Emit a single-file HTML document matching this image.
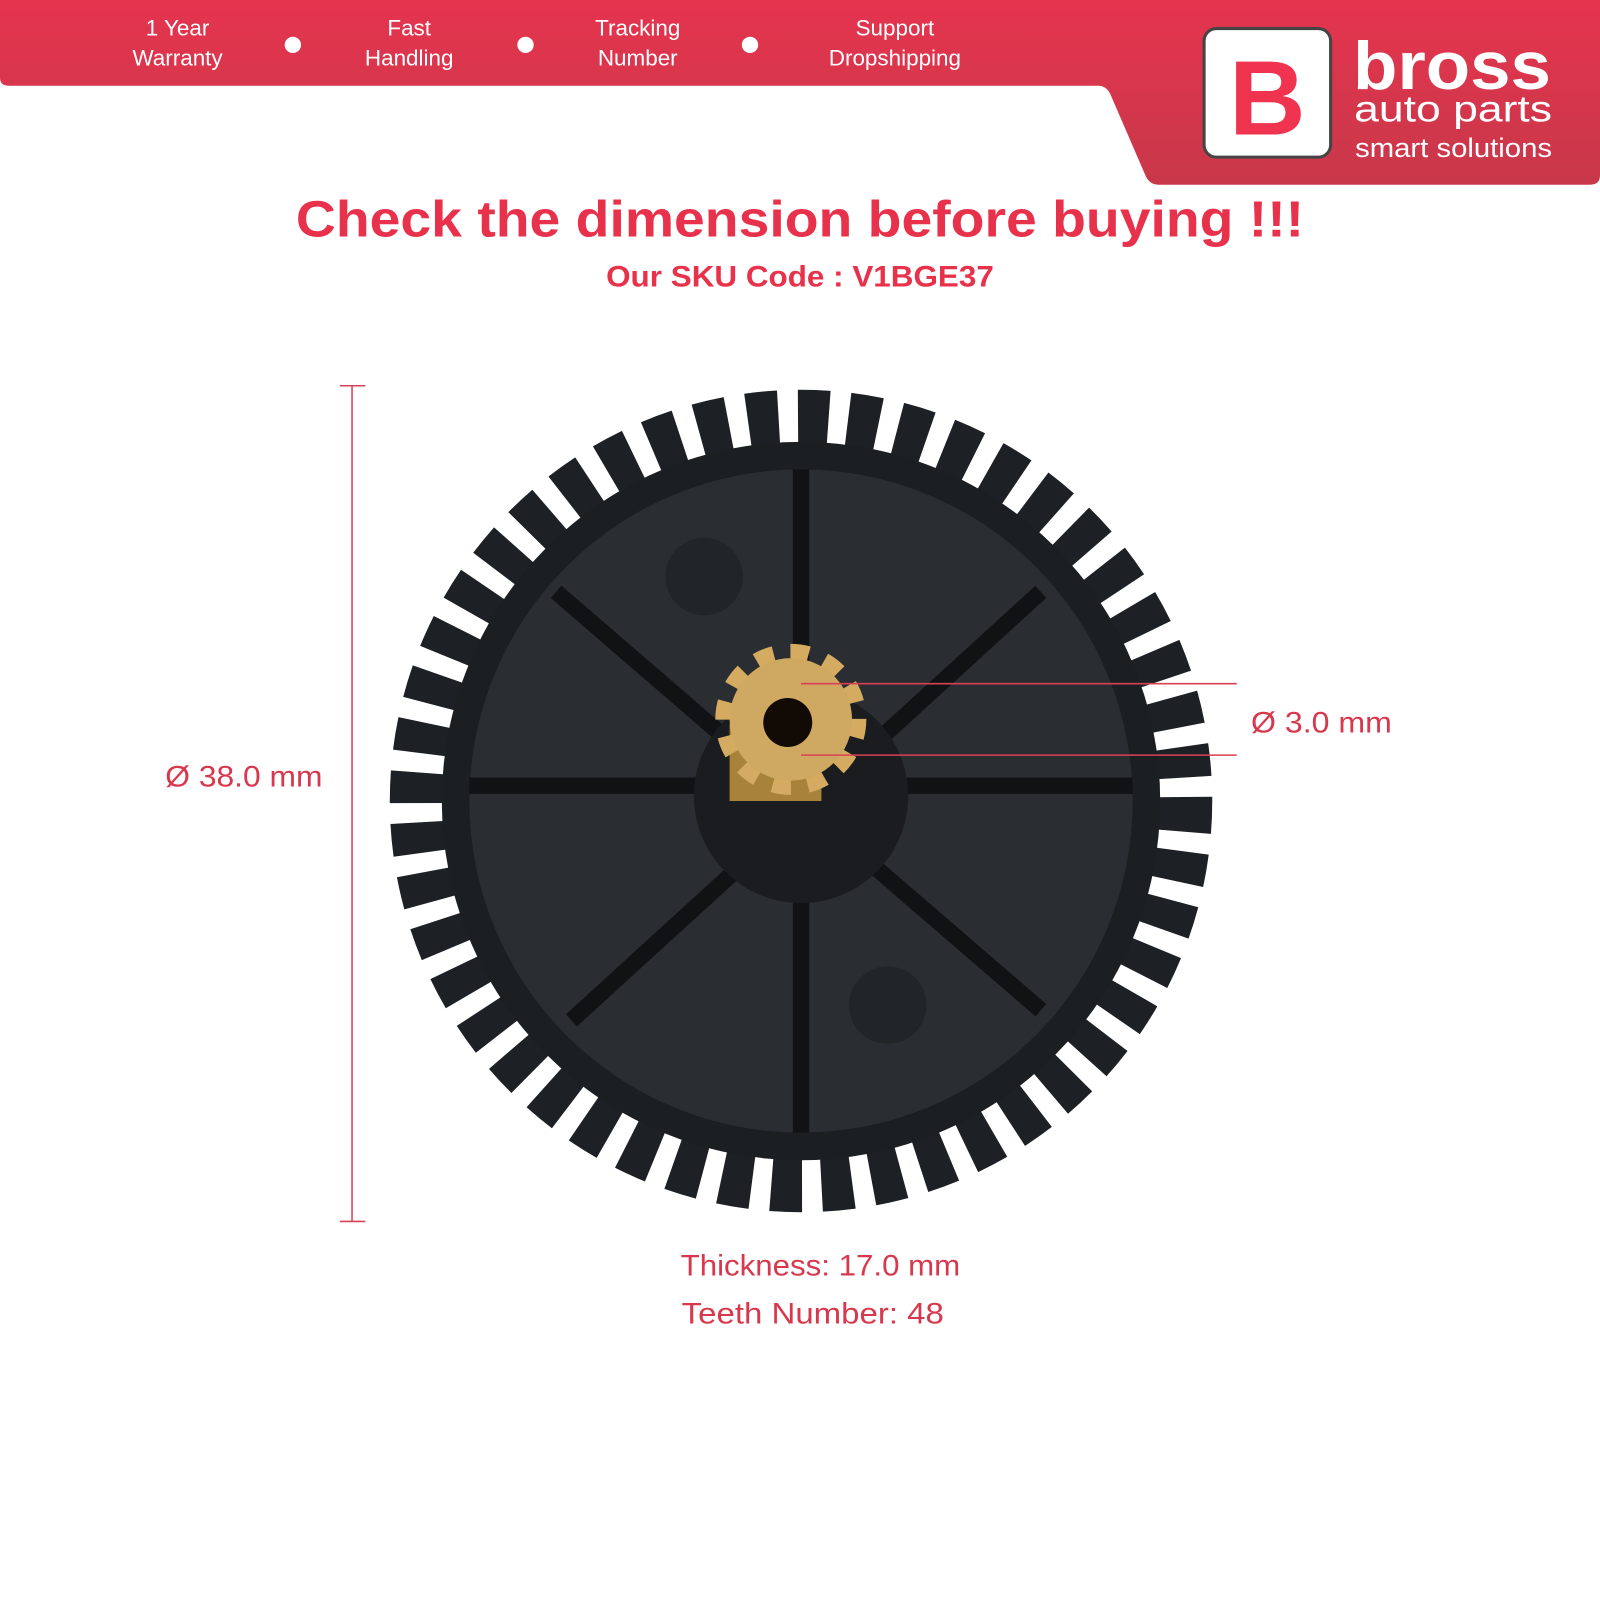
<!DOCTYPE html>
<html><head><meta charset="utf-8"><style>html,body{margin:0;padding:0;background:#fff}svg{display:block}</style></head><body>
<svg width="1600" height="1600" viewBox="0 0 1568 1568" xmlns="http://www.w3.org/2000/svg" font-family="Liberation Sans, sans-serif">
<defs><linearGradient id="rg" x1="0" y1="0" x2="0" y2="1"><stop offset="0" stop-color="#e5344e"/><stop offset="1" stop-color="#c8384a"/></linearGradient></defs>
<path d="M0 0 H1568 V172 Q1568 181 1558 181 H1135 Q1127 181 1123 173 L1088 92 Q1084 84 1076 84 H8 Q0 84 0 76 Z" fill="url(#rg)"/>
<g fill="#fff" font-size="22" text-anchor="middle">
<text x="174" y="35">1 Year</text><text x="174" y="64">Warranty</text>
<text x="401" y="35">Fast</text><text x="401" y="64">Handling</text>
<text x="625" y="35">Tracking</text><text x="625" y="64">Number</text>
<text x="877" y="35">Support</text><text x="877" y="64">Dropshipping</text>
<circle cx="287" cy="44" r="8"/><circle cx="515" cy="44" r="8"/><circle cx="735" cy="44" r="8"/>
</g>
<rect x="1180" y="28" width="124" height="126" rx="12" fill="#fff" stroke="#444" stroke-width="3"/>
<text x="1242" y="132" font-size="104" font-weight="bold" fill="#f0344f" text-anchor="middle">B</text>
<text x="1326" y="87" font-size="66" font-weight="bold" fill="#fff" textLength="194" lengthAdjust="spacingAndGlyphs">bross</text>
<text x="1327" y="119" font-size="36" fill="#fff" textLength="194" lengthAdjust="spacingAndGlyphs">auto parts</text>
<text x="1328" y="154" font-size="26" fill="#fff" textLength="193" lengthAdjust="spacingAndGlyphs">smart solutions</text>
<text x="290" y="232" font-size="50" font-weight="bold" fill="#e8314a" textLength="988" lengthAdjust="spacingAndGlyphs">Check the dimension before buying !!!</text>
<text x="594" y="281" font-size="29" font-weight="bold" fill="#e8314a" textLength="380" lengthAdjust="spacingAndGlyphs">Our SKU Code : V1BGE37</text>
<!-- gear -->
<circle cx="785" cy="785" r="375" fill="none" stroke="#1d2024" stroke-width="56" stroke-dasharray="30 19"/>
<circle cx="785" cy="785" r="352" fill="#1c1f22"/>
<circle cx="785" cy="785" r="325" fill="#2a2d31"/>
<g stroke="#101214" stroke-width="16">
<line x1="785" y1="460" x2="785" y2="1110"/><line x1="460" y1="770" x2="1110" y2="770"/>
<line x1="545" y1="580" x2="1020" y2="990"/><line x1="1020" y1="580" x2="560" y2="1000"/>
</g>
<circle cx="785" cy="780" r="105" fill="#1a1c1f"/>
<circle cx="690" cy="565" r="38" fill="#222528"/><circle cx="870" cy="985" r="38" fill="#222528"/>
<rect x="715" y="710" width="90" height="75" fill="#a88238"/>
<circle cx="775" cy="705" r="66" fill="none" stroke="#d4ab60" stroke-width="16" stroke-dasharray="18 16.5"/>
<circle cx="775" cy="705" r="60" fill="#cfa862"/>
<circle cx="772" cy="708" r="24" fill="#120a05"/>
<g stroke="#d94055" stroke-width="1.5">
<line x1="345" y1="378" x2="345" y2="1197"/><line x1="333" y1="378" x2="358" y2="378"/><line x1="333" y1="1197" x2="358" y2="1197"/>
<line x1="785" y1="670" x2="1212" y2="670"/><line x1="785" y1="740" x2="1212" y2="740"/>
</g>
<g fill="#d8384d" font-size="29">
<text x="162" y="771" textLength="154" lengthAdjust="spacingAndGlyphs">Ø 38.0 mm</text>
<text x="1226" y="718" textLength="138" lengthAdjust="spacingAndGlyphs">Ø 3.0 mm</text>
<text x="667" y="1250" textLength="274" lengthAdjust="spacingAndGlyphs">Thickness: 17.0 mm</text>
<text x="668" y="1297" textLength="257" lengthAdjust="spacingAndGlyphs">Teeth Number: 48</text>
</g>
</svg>
</body></html>
